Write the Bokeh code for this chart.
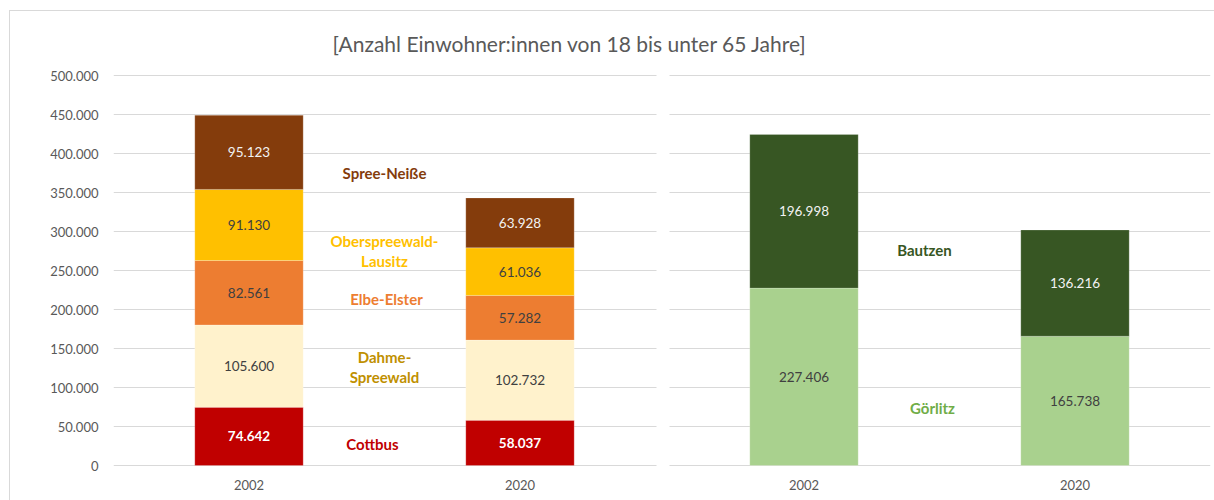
import numpy as np
from bokeh.plotting import figure
from bokeh.models import (ColumnDataSource, FactorRange, Range1d, SingleIntervalTicker,
                          CustomJSTickFormatter, BoxAnnotation)
from bokeh.transform import dodge
from bokeh.core.properties import value
from bokeh.embed import file_html
from bokeh.resources import INLINE

# ---------------- data ----------------
title_text = "[Anzahl Einwohner:innen von 18 bis unter 65 Jahre]"
years = ["2002", "2020"]
groups = ["Brandenburg", "Sachsen"]

bb_names = ["Cottbus", "Dahme-Spreewald", "Elbe-Elster", "Oberspreewald-Lausitz", "Spree-Neiße"]
bb_name_text = ["Cottbus", "Dahme-\nSpreewald", "Elbe-Elster", "Oberspreewald-\nLausitz", "Spree-Neiße"]
bb_2002 = [74642, 105600, 82561, 91130, 95123]
bb_2020 = [58037, 102732, 57282, 61036, 63928]

sn_names = ["Görlitz", "Bautzen"]
sn_2002 = [227406, 196998]
sn_2020 = [165738, 136216]

y_max = 500000
y_step = 50000

# ---------------- styles / label placement ----------------
FONT = "Lato"
bb_colors = ["#C00000", "#FFF2CC", "#ED7D31", "#FFC000", "#843C0C"]
bb_value_colors = ["#FFFFFF", "#404040", "#404040", "#404040", "#F2F2F2"]
bb_value_styles = ["bold", "normal", "normal", "normal", "normal"]
bb_name_colors = ["#C00000", "#BF9000", "#ED7D31", "#FFC000", "#843C0C"]
bb_name_y = [27000, 126500, 214000, 275500, 375500]
bb_name_dx = [-12, 0, 2, 0, 0]

sn_colors = ["#A9D18E", "#375623"]
sn_value_colors = ["#404040", "#F2F2F2"]
sn_value_styles = ["normal", "normal"]
sn_name_colors = ["#70AD47", "#375623"]
sn_name_y = [74000, 276000]
sn_name_dx = [-7, -15]

W, H = 1204, 489
PLOT_H = 390                      # pixels for 0 .. y_max
FRAME_L, FRAME_T, FRAME_W, FRAME_H = 103, 63, 1097, PLOT_H + 2
GROUP_PAD = 0.048
px = y_max / PLOT_H               # one pixel in data units (keeps edge gridlines unclipped)

def fmt(v):
    return f"{v:,}".replace(",", ".")

x_range = FactorRange(factors=[(g, y) for g in groups for y in years],
                      range_padding=0, group_padding=GROUP_PAD, factor_padding=0)

p = figure(x_range=x_range, y_range=Range1d(-px, y_max + px),
           frame_width=FRAME_W, frame_height=FRAME_H,
           min_border_left=FRAME_L, min_border_right=W - FRAME_L - FRAME_W,
           min_border_top=FRAME_T, min_border_bottom=H - FRAME_T - FRAME_H,
           output_backend="svg", toolbar_location=None,
           background_fill_color="white", border_fill_color="white",
           styles={"margin-left": "9px", "margin-top": "10px",
                   "border-left": "1px solid #D9D9D9", "border-top": "1px solid #D9D9D9"})
p.outline_line_color = None

# title
p.title.text = title_text
p.title.align = "left"
p.title.vertical_align = "middle"
p.title.offset = 219
p.title.standoff = 36
p.title.text_font = FONT
p.title.text_font_size = "21px"
p.title.text_font_style = "normal"
p.title.text_color = "#595959"

# axes
p.yaxis.ticker = SingleIntervalTicker(interval=y_step, num_minor_ticks=0)
p.yaxis.formatter = CustomJSTickFormatter(
    code="return Math.round(tick).toString().replace(/\\B(?=(\\d{3})+(?!\\d))/g, '.');")
for ax in (p.xaxis, p.yaxis):
    ax.axis_line_color = None
    ax.major_tick_line_color = None
    ax.minor_tick_line_color = None
    ax.major_label_text_font = FONT
    ax.major_label_text_font_size = "13px"
    ax.major_label_text_color = "#595959"
p.yaxis.major_label_standoff = 9
p.xaxis.major_label_standoff = 7
p.xaxis.group_text_font_size = "0px"
p.xaxis.group_text_color = None
p.xaxis.separator_line_color = None
p.xgrid.grid_line_color = None
p.ygrid.grid_line_color = "#D9D9D9"
p.ygrid.grid_line_width = 1

# gap between the two panels (breaks the gridlines)
unit = FRAME_W / (4 + GROUP_PAD)
p.add_layout(BoxAnnotation(left=FRAME_L + 2 * unit, right=FRAME_L + (2 + GROUP_PAD) * unit,
                           left_units="canvas", right_units="canvas",
                           fill_color="white", fill_alpha=1, line_color=None))

def panel(group, names, v2002, v2020, colors, value_colors, value_styles,
          name_text, name_colors, name_y, name_dx):
    xs = [(group, years[0]), (group, years[1])]
    data = {"x": xs}
    for n, a, b in zip(names, v2002, v2020):
        data[n] = [a, b]
    src = ColumnDataSource(data)
    p.vbar_stack(names, x="x", width=0.4, color=colors, source=src,
                 line_color="white", line_alpha=0.35, line_width=0.6)
    # value labels
    lx, ly, lt, lc, ls = [], [], [], [], []
    for vals, xf in ((v2002, xs[0]), (v2020, xs[1])):
        cum = np.cumsum([0] + list(vals))
        for i, v in enumerate(vals):
            lx.append(xf)
            ly.append((cum[i] + cum[i + 1]) / 2)
            lt.append(fmt(v))
            lc.append(value_colors[i])
            ls.append(value_styles[i])
    vsrc = ColumnDataSource(dict(x=lx, y=ly, t=lt, c=lc, s=ls))
    p.text(x="x", y="y", text="t", text_color="c", text_font_style="s", source=vsrc,
           text_align="center", text_baseline="middle",
           text_font=value(FONT), text_font_size="13.5px")
    # series name labels
    nsrc = ColumnDataSource(dict(x=[xs[0]] * len(names), y=name_y, t=name_text,
                                 c=name_colors, dx=name_dx))
    p.text(x=dodge("x", 0.5, range=p.x_range), y="y", text="t", text_color="c",
           x_offset="dx", source=nsrc, text_align="center", text_baseline="middle",
           text_font=value(FONT), text_font_size="15px", text_font_style="bold",
           text_line_height=1.1)

panel(groups[0], bb_names, bb_2002, bb_2020, bb_colors, bb_value_colors, bb_value_styles,
      bb_name_text, bb_name_colors, bb_name_y, bb_name_dx)
panel(groups[1], sn_names, sn_2002, sn_2020, sn_colors, sn_value_colors, sn_value_styles,
      sn_names, sn_name_colors, sn_name_y, sn_name_dx)

open("out.html", "w").write(file_html(p, INLINE))
